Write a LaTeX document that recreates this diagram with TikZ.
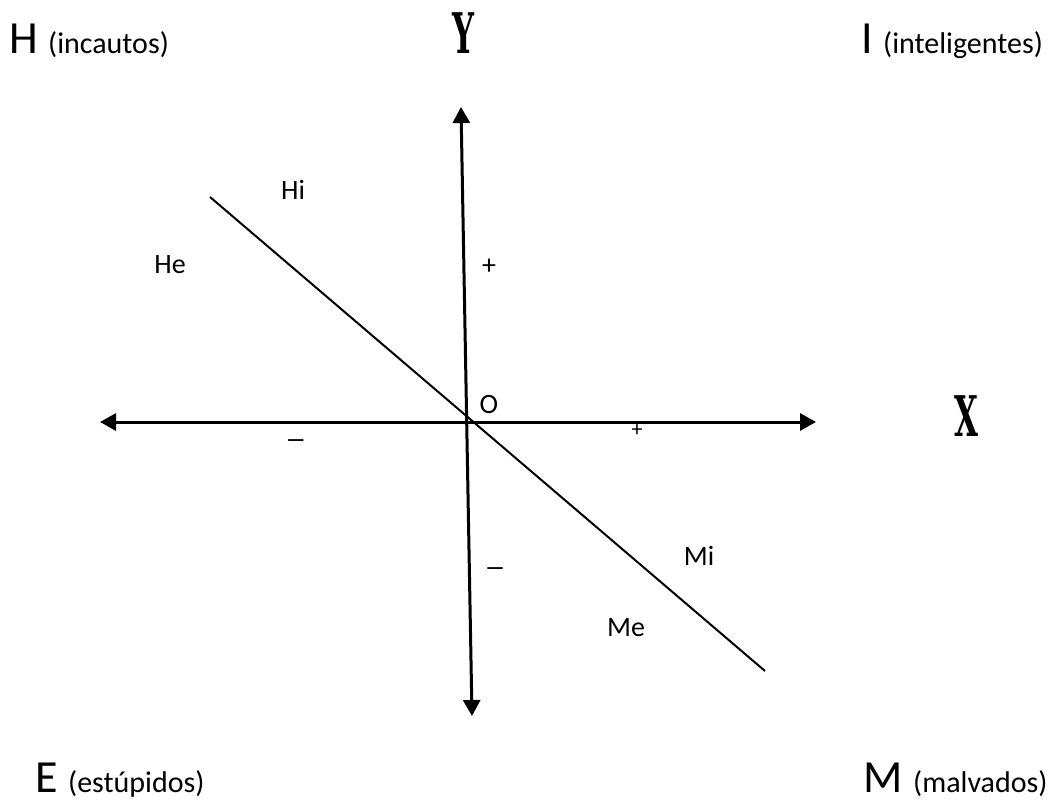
\documentclass[tikz,border=0pt]{standalone}
\usepackage{fontspec}
\setmainfont{Carlito}
\newfontfamily\axisfont{DejaVu Serif}
\usepackage{tikz}
\usetikzlibrary{arrows.meta}

\begin{document}
\begin{tikzpicture}[x=1pt, y=-1pt, font=\fontsize{28}{30}\selectfont,
  >={Triangle[length=16pt, width=17pt]},
  axis/.style={line width=3pt},
  corner/.style={font=\fontsize{46}{46}\selectfont, inner sep=0pt, anchor=base west},
  tag/.style={font=\fontsize{30}{32}\selectfont, inner sep=0pt, anchor=base west},
  sign/.style={font=\fontsize{21}{22}\selectfont\bfseries},
  axisname/.style={font=\axisfont\fontsize{56}{56}\selectfont\bfseries, inner sep=0pt}]
  \useasboundingbox (0,0) rectangle (1052,803);
  % axes: pixel coordinates of the reference, y pointing down
  \coordinate (ytop) at (461,107); \coordinate (ybot) at (472,716);
  \coordinate (xleft) at (100,422); \coordinate (xright) at (816,422);
  \coordinate (dtop) at (210,197); \coordinate (dbot) at (765,671);
  \draw[axis, <->] (ytop) -- (ybot);
  \draw[axis, <->] (xleft) -- (xright);
  \draw[line width=2pt] (dtop) -- (dbot);
  % axis names
  \node[axisname] (yname) at (463,33) {\scalebox{0.55}[1]{Y}};
  \node[axisname] (xname) at (966,416) {\scalebox{0.55}[1]{X}};
  % corners
  \node[corner] (h) at (9,53) {H}; \node[tag] (hw) at (48,53) {(incautos)};
  \node[corner] (i) at (861,53) {I}; \node[tag] (iw) at (883,53) {(inteligentes)};
  \node[corner] (e) at (35,792) {E}; \node[tag] (ew) at (68,792) {(estúpidos)};
  \node[corner] (m) at (863,792) {M}; \node[tag] (mw) at (913,792) {(malvados)};
  % regions and signs
  \node (o) at (489,405) {O};
  \node (hi) at (293,190) {Hi}; \node (he) at (170,265) {He};
  \node (mi) at (699,556) {Mi}; \node (me) at (626,628) {Me};
  \node (yplus) at (489,267) {+};
  \node[sign] (yminus) at (495,571) {—};
  \node[sign] (xminus) at (296,443) {—};
  \node[font=\fontsize{22}{24}\selectfont] (xplus) at (637,430) {+};
\end{tikzpicture}
\end{document}
